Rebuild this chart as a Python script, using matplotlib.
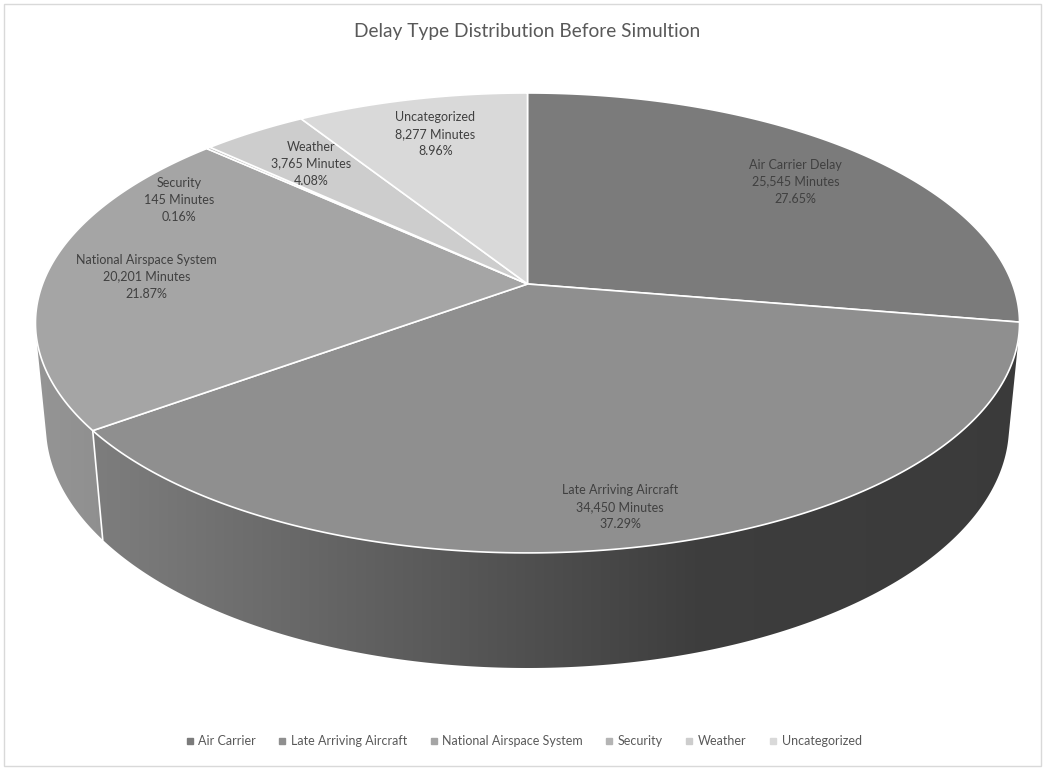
import numpy as np
import matplotlib.pyplot as plt
from matplotlib.patches import Polygon, Rectangle
from matplotlib.lines import Line2D

plt.rcParams['font.family'] = ['Lato', 'DejaVu Sans']

# data
categories = ['Air Carrier', 'Late Arriving Aircraft', 'National Airspace System',
              'Security', 'Weather', 'Uncategorized']
label_names = ['Air Carrier Delay', 'Late Arriving Aircraft', 'National Airspace System',
               'Security', 'Weather', 'Uncategorized']
minutes = [25545, 34450, 20201, 145, 3765, 8277]
colors = ['#7b7b7b', '#8f8f8f', '#a5a5a5', '#b4b4b4', '#cdcdcd', '#d9d9d9']

# nudges Excel applied so the small slice labels don't overlap (pixels)
label_nudge = [(5, 0), (-6, 31), (-11, 2), (-97, 23), (0, 0), (0, -3)]

# 3d pie camera (fitted by eye)
CX, CY = 527.5, 284.0
K = 2541.0
D = 5.24
s_e, c_e = 0.4606, 0.8876
H = 0.241


def project(X, Y, Z):
    depth = D + c_e * Y - s_e * Z
    sx = CX + K * X / depth
    sy = CY - K * (s_e * Y + c_e * Z) / depth
    return sx, sy


def shade(x):
    return np.interp(x, [40, 120, 700, 1020], [0.9, 0.86, 0.43, 0.41])


fig = plt.figure(figsize=(10.45, 7.71), dpi=100)
ax = fig.add_axes([0, 0, 1, 1])
ax.set_xlim(0, 1045)
ax.set_ylim(771, 0)
ax.axis('off')

ax.add_patch(Rectangle((4, 4), 1037, 762, fill=False, ec='#d9d9d9', lw=1))

vals = np.array(minutes, dtype=float)
frac = vals / vals.sum()
edges = np.concatenate([[0], np.cumsum(frac)]) * 2 * np.pi

# visible side wall range
lim = np.arccos(-1.0 / (D * c_e))
wall_a, wall_b = lim, 2 * np.pi - lim

for i in range(len(vals)):
    a, b = max(edges[i], wall_a), min(edges[i + 1], wall_b)
    if b <= a:
        continue
    t = np.linspace(a, b, 200)
    X, Y = np.sin(t), np.cos(t)
    tx, ty = project(X, Y, 0 * t)
    bx, by = project(X, Y, 0 * t - H)
    pts = np.column_stack([np.concatenate([tx, bx[::-1]]),
                           np.concatenate([ty, by[::-1]])])
    poly = Polygon(pts, closed=True, fc='none', ec='none')
    ax.add_patch(poly)
    base = np.array([int(colors[i][j:j + 2], 16) for j in (1, 3, 5)]) / 255.0
    xs = np.linspace(0, 1045, 400)
    grad = np.clip(shade(xs)[None, :, None] * base[None, None, :], 0, 1)
    im = ax.imshow(grad, extent=(0, 1045, 771, 0), aspect='auto', zorder=1)
    im.set_clip_path(poly)

# white seams on the wall at slice boundaries
for e in edges[1:-1]:
    if wall_a < e < wall_b:
        x0, y0 = project(np.sin(e), np.cos(e), 0)
        x1, y1 = project(np.sin(e), np.cos(e), -H)
        ax.plot([x0, x1], [y0, y1], color='white', lw=1.2, zorder=2)

# top faces
for i in range(len(vals)):
    t = np.linspace(edges[i], edges[i + 1], 300)
    px, py = project(np.sin(t), np.cos(t), 0 * t)
    pts = np.column_stack([np.concatenate([[CX], px]), np.concatenate([[CY], py])])
    ax.add_patch(Polygon(pts, closed=True, fc=colors[i], ec='white', lw=1.2, zorder=3))

# data labels
for i in range(len(vals)):
    mid = (edges[i] + edges[i + 1]) / 2
    lx, ly = project(0.77 * np.sin(mid), 0.77 * np.cos(mid), 0)
    lx += label_nudge[i][0]
    ly += label_nudge[i][1]
    txt = f"{label_names[i]}\n{minutes[i]:,} Minutes\n{frac[i] * 100:.2f}%"
    ax.text(lx, ly, txt, ha='center', va='center', fontsize=9, color='#404040',
            linespacing=1.5, zorder=5)

ax.text(527, 31, 'Delay Type Distribution Before Simultion', ha='center', va='center',
        fontsize=13.8, color='#595959')

handles = [Line2D([], [], marker='s', ls='none', markersize=4, color=c) for c in colors]
ax.legend(handles, categories, loc='center', bbox_to_anchor=(0.5, 1 - 741 / 771),
          ncol=6, frameon=False, fontsize=9, handletextpad=0.2, columnspacing=1.6,
          labelcolor='#595959', handlelength=1.0)

fig.savefig('out.png', dpi=100)
